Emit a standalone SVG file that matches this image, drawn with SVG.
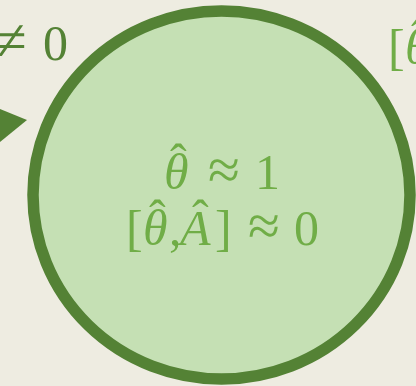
<svg xmlns="http://www.w3.org/2000/svg" width="416" height="386" viewBox="0 0 416 386">
<style>
.bg{fill:#eeece1}
.node{fill:#c5e0b4;stroke:#548235;stroke-width:11.5}
.math{font-family:"Liberation Serif","DejaVu Serif",serif;font-size:50px}
.in{fill:#70ad47}
.out{fill:#548235}
.it{font-style:italic}
.op{font-size:58px}
.arrow{fill:#548235}
</style>
<rect class="bg" x="0" y="0" width="416" height="386"/>
<g id="connectors">
<polygon class="arrow" points="0,109 27,120 0,142"/>
</g>
<g id="label-left">
<text class="math out" y="60"><tspan class="op" x="-5">≠</tspan><tspan x="43">0</tspan></text>
</g>
<g id="label-right">
<text class="math in" y="64"><tspan x="388">[</tspan><tspan class="it" x="405">θ</tspan></text>
<text class="math in" x="411" y="54">ˆ</text>
</g>
<g id="node-state">
<ellipse class="node" cx="221.5" cy="195" rx="188.5" ry="184"/>
<text class="math in" y="189"><tspan class="it" x="164">θ</tspan><tspan class="op" x="208">≈</tspan><tspan x="255">1</tspan></text>
<text class="math in" x="170" y="179">ˆ</text>
<text class="math in" y="245"><tspan x="126">[</tspan><tspan class="it" x="143">θ</tspan><tspan x="169">,</tspan><tspan class="it" x="180">A</tspan><tspan x="215">]</tspan><tspan class="op" x="248">≈</tspan><tspan x="294">0</tspan></text>
<text class="math in" x="149" y="235">ˆ</text>
<text class="math in" x="192" y="235">ˆ</text>
</g>
</svg>
